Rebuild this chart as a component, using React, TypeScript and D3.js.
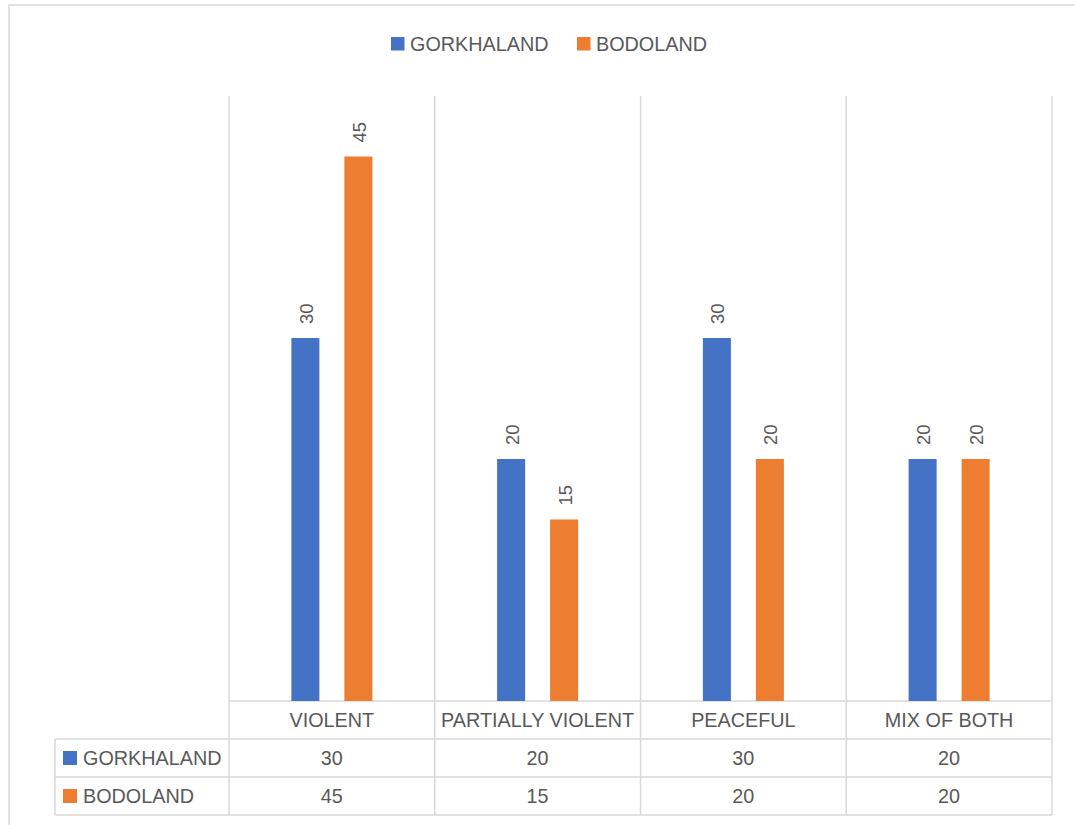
import React from "react";
import * as d3 from "d3";

const categories = ["VIOLENT", "PARTIALLY VIOLENT", "PEACEFUL", "MIX OF BOTH"];
const seriesNames = ["GORKHALAND", "BODOLAND"];
const gorkhaland = [30, 20, 30, 20];
const bodoland = [45, 15, 20, 20];
const colors = ["#4472C4", "#ED7D31"];

const W = 1075;
const H = 825;
const plotLeft = 229;
const plotRight = 1052;
const plotTop = 96;
const plotBottom = 701;
const rowH = 38;
const tableLeft = 55;
const grid = "#d9d9d9";
const textColor = "#595959";
const font = "'Liberation Sans', Arial, sans-serif";
const fs = 19.8;

export default function App() {
  const seriesValues = [gorkhaland, bodoland];
  const x = d3.scaleBand<string>().domain(categories).range([plotLeft, plotRight]).padding(0);
  const y = d3.scaleLinear().domain([0, 50]).range([plotBottom, plotTop]);
  const groupW = 81;
  const inner = d3
    .scaleBand<string>()
    .domain(seriesNames)
    .range([-groupW / 2, groupW / 2])
    .paddingInner(25 / 53)
    .paddingOuter(0);

  const colEdges = categories.map((c) => x(c)!).concat([plotRight]);
  const tableBottom = plotBottom + rowH * 3;

  return (
    <svg
      width={W}
      height={H}
      style={{ position: "absolute", left: 0, top: 0, background: "#fff", fontFamily: font }}
    >
      <rect x={9} y={5} width={W} height={H} fill="#fff" stroke={grid} strokeWidth={1.5} />

      {/* legend */}
      {seriesNames.map((s, i) => {
        const lx = i === 0 ? 391 : 577;
        return (
          <g key={s}>
            <rect x={lx} y={37} width={13.5} height={13.5} fill={colors[i]} />
            <text x={lx + 19} y={51} fontSize={fs} fill={textColor}>
              {s}
            </text>
          </g>
        );
      })}

      {/* vertical gridlines through plot and table */}
      {colEdges.map((cx, i) => (
        <line key={i} x1={cx} x2={cx} y1={plotTop} y2={tableBottom} stroke={grid} strokeWidth={1.5} />
      ))}
      {/* table horizontal lines */}
      <line x1={plotLeft} x2={plotRight} y1={plotBottom} y2={plotBottom} stroke={grid} strokeWidth={1.5} />
      {[1, 2, 3].map((r) => (
        <line
          key={r}
          x1={tableLeft}
          x2={plotRight}
          y1={plotBottom + rowH * r}
          y2={plotBottom + rowH * r}
          stroke={grid}
          strokeWidth={1.5}
        />
      ))}
      <line x1={tableLeft} x2={tableLeft} y1={plotBottom + rowH} y2={tableBottom} stroke={grid} strokeWidth={1.5} />

      {/* bars */}
      {categories.map((c, ci) => {
        const cx = x(c)! + x.bandwidth() / 2;
        return seriesNames.map((s, si) => {
          const v = seriesValues[si][ci];
          const bx = cx + inner(s)!;
          const by = y(v);
          const bw = inner.bandwidth();
          return (
            <g key={c + s}>
              <rect x={bx} y={by} width={bw} height={plotBottom - by} fill={colors[si]} />
              <text
                transform={`translate(${bx + bw / 2 + 1},${by - 14}) rotate(-90)`}
                dy="0.35em"
                fontSize={18.5}
                fill={textColor}
              >
                {v}
              </text>
            </g>
          );
        });
      })}

      {/* table header */}
      {categories.map((c) => (
        <text
          key={c}
          x={x(c)! + x.bandwidth() / 2}
          y={plotBottom + rowH / 2}
          dy="0.36em"
          textAnchor="middle"
          fontSize={fs}
          fill={textColor}
        >
          {c}
        </text>
      ))}

      {/* table rows */}
      {seriesNames.map((s, si) => {
        const rowY = plotBottom + rowH * (si + 1);
        return (
          <g key={s}>
            <rect x={63} y={rowY + 12} width={14} height={14} fill={colors[si]} />
            <text x={83} y={rowY + rowH / 2} dy="0.36em" fontSize={fs} fill={textColor}>
              {s}
            </text>
            {categories.map((c, ci) => (
              <text
                key={c}
                x={x(c)! + x.bandwidth() / 2}
                y={rowY + rowH / 2}
                dy="0.36em"
                textAnchor="middle"
                fontSize={fs}
                fill={textColor}
              >
                {seriesValues[si][ci]}
              </text>
            ))}
          </g>
        );
      })}
    </svg>
  );
}
